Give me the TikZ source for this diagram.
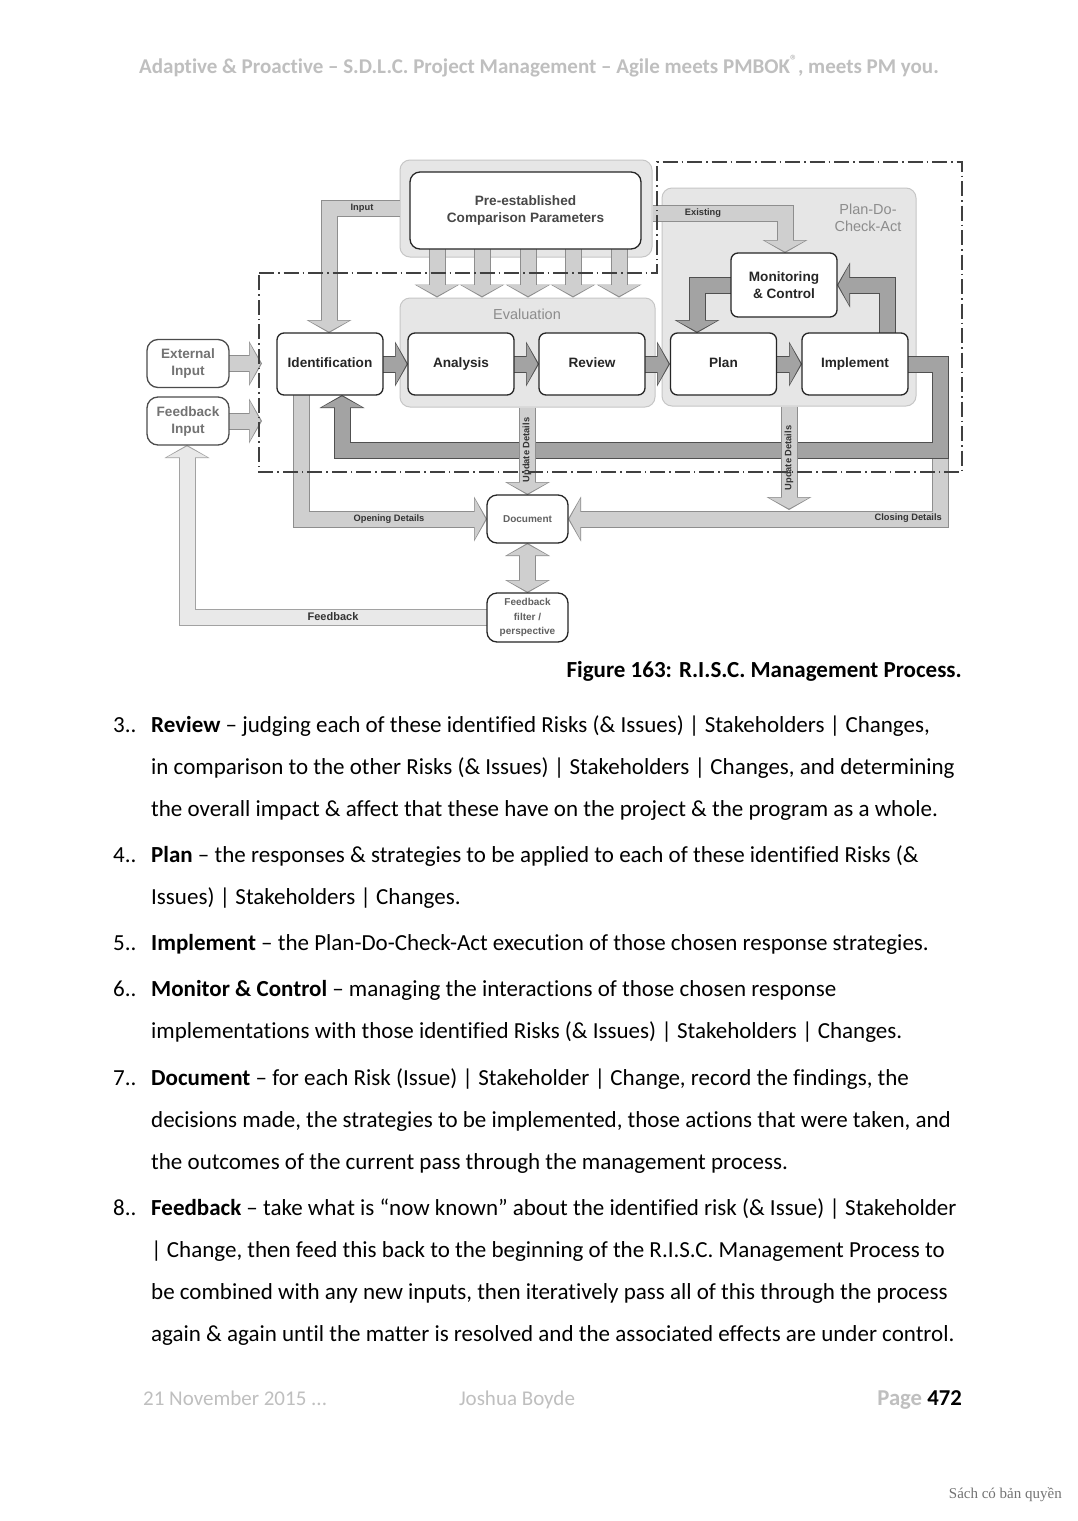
\documentclass[tikz,border=0pt]{standalone}
\usepackage{fontspec}
\setmainfont{Carlito}[Ligatures=NoCommon]
\newfontfamily\diafont{Liberation Sans}
\newfontfamily\wmfont{Liberation Serif}
\usetikzlibrary{arrows.meta,calc}

\definecolor{panelgrey}{HTML}{E6E6E6}
\definecolor{panelline}{HTML}{C6C6C6}
\definecolor{lightfill}{HTML}{CFCFCF}
\definecolor{lightedge}{HTML}{8E8E8E}
\definecolor{darkfill}{HTML}{A3A3A3}
\definecolor{darkedge}{HTML}{505050}
\definecolor{palefill}{HTML}{E9E9E9}
\definecolor{paleedge}{HTML}{A2A2A2}
\definecolor{pagegrey}{HTML}{BFBFBF}

\tikzset{
  bigtip/.tip={Triangle[width=45pt,length=13pt,line width=0pt]},
  innertip/.tip={Triangle[width=40.5pt,length=11pt,line width=0pt]},
  arrowb/.style={line width=17pt, line join=miter, -bigtip},
  arrowf/.style={line width=15pt, line join=miter, shorten >=1.4pt, -innertip},
}
% block arrow: edge colour, fill colour, path
\newcommand\fatarrow[3]{\draw[arrowb,draw=#1] #3; \draw[arrowf,draw=#2] #3;}

\begin{document}
\begin{tikzpicture}[x=1pt,y=-1pt,
  every node/.style={inner sep=0pt},
  panel/.style={draw=panelline, fill=panelgrey, rounded corners=10pt, line width=1pt},
  stepbox/.style={draw=black!85, fill=white, line width=1.3pt, rounded corners=7pt,
    minimum width=106pt, minimum height=62pt, align=center,
    font=\diafont\bfseries\fontsize{13.6}{17}\selectfont, text=black!85},
  oneline/.style={text height=10pt, text depth=3pt},
  inbox/.style={stepbox, draw=black!70, minimum width=82pt, minimum height=48pt,
    rounded corners=11pt, text=black!55},
  docbox/.style={stepbox, minimum width=81pt, minimum height=48pt, rounded corners=10pt,
    font=\diafont\bfseries\fontsize{10}{14.5}\selectfont, text=black!62},
  tag/.style={font=\diafont\bfseries\fontsize{9.3}{11}\selectfont, text=black!80},
  panellabel/.style={font=\diafont\fontsize{14.5}{17}\selectfont, text=black!45, align=center},
  bodyline/.style={anchor=base west, font=\fontsize{23}{27}\selectfont},
  boundary/.style={draw=black!75, line width=1.4pt, dash pattern=on 15pt off 4pt on 1.5pt off 4pt},
]
\fill[white] (0,0) rectangle (1077,1521);
\useasboundingbox (0,0) rectangle (1077,1521);

% running head
\node[font=\bfseries\fontsize{21}{24}\selectfont, text=pagegrey] (header) at (539,66)
  {Adaptive \& Proactive – S.D.L.C. Project Management – Agile meets PMBOK\textsuperscript{®}, meets PM you.};

% panels
\node[panel, minimum width=252pt, minimum height=97pt] (preout) at (526,208.5) {};
\node[panel, minimum width=255pt, minimum height=109pt] (eval) at (527.5,352.5) {};
\node[panel, minimum width=254pt, minimum height=218pt] (pdca) at (789,297) {};
\node[panellabel] (evallabel) at (527,314) {Evaluation};
\node[panellabel] (pdcalabel) at (868,218) {Plan-Do-\\Check-Act};

% comparison parameters into evaluation
\foreach \x in {437,482,528,573,619}
  {\fatarrow{lightedge}{lightfill}{(\x,249) -- (eval.north -| \x,0)}}

% input and existing
\fatarrow{lightedge}{lightfill}{(preout.west) -| (329,333)}
\fatarrow{lightedge}{lightfill}{(preout.east |- 0,213) -| (785,253)}

% monitoring loop
\fatarrow{darkedge}{darkfill}{(784,285) -| (697,333)}
\fatarrow{darkedge}{darkfill}{(887,333) |- (837,285)}

% main flow
\foreach \a/\b in {330/408,461/539,592/670,723.5/802}
  {\fatarrow{darkedge}{darkfill}{(\a,364) -- (\b,364)}}

% details to document
\fatarrow{lightedge}{lightfill}{(301,364) |- (487,519)}
\fatarrow{lightedge}{lightfill}{(940,450) |- (568,519)}

% back to identification
\fatarrow{darkedge}{darkfill}{(855,364) -| (940,450) -| (342,395)}

% update details
\coordinate (pdcaout) at (789,510);
\fatarrow{lightedge}{lightfill}{(eval.south) -- (527.5,495)}
\fatarrow{lightedge}{lightfill}{(pdca.south) -- (pdcaout)}

% document <-> feedback filter
\draw[arrowb, draw=lightedge, bigtip-bigtip] (527.5,543) -- (527.5,593);
\draw[arrowf, draw=lightfill, innertip-innertip, shorten <=1.4pt] (527.5,543) -- (527.5,593);

% feedback to input
\fatarrow{paleedge}{palefill}{(527.5,617) -| (187,445)}

% outside inputs
\coordinate (extend) at (262,363.5);
\coordinate (fbend) at (262,421);
\fatarrow{lightedge}{lightfill}{(188,363.5) -- (extend)}
\fatarrow{lightedge}{lightfill}{(188,421) -- (fbend)}

% steps
\node[stepbox, minimum width=231pt, minimum height=77pt, rounded corners=10pt, text=black!72]
  (params) at (525.5,210.5) {Pre-established\\Comparison Parameters};
\node[stepbox, oneline] (ident) at (330,364) {Identification};
\node[stepbox, oneline] (analysis) at (461,364) {Analysis};
\node[stepbox, oneline] (review) at (592,364) {Review};
\node[stepbox, oneline] (plan) at (723.5,364) {Plan};
\node[stepbox, oneline] (implement) at (855,364) {Implement};
\node[stepbox, minimum height=64pt] (monitor) at (784,285) {Monitoring\\\& Control};
\node[inbox] (extin) at (188,363.5) {External\\Input};
\node[inbox] (fbin) at (188,421) {Feedback\\Input};
\node[docbox, oneline] (doc) at (527.5,519) {Document};
\node[docbox, minimum height=49pt] (filter) at (527.5,617.5) {Feedback\\filter /\\perspective};

% arrow labels
\node[tag] (inputtag) at (362,208) {Input};
\node[tag] (existtag) at (703,213) {Existing};
\node[tag] (opentag) at (389,519.5) {Opening Details};
\node[tag, anchor=east] (closetag) at (942,518) {Closing Details};
\node[tag, font=\diafont\bfseries\fontsize{11}{13}\selectfont] (fbtag) at (333,617) {Feedback};
\node[tag, rotate=90] (upd1) at (527,450) {Update Details};
\node[tag, rotate=90] (upd2) at (789,458) {Update Details};

% scope boundary
\draw[boundary] (259,273) -- (657,273) -- (657,162) -- (962,162) -- (962,472) -- (259,472) -- cycle;

% caption
\node[anchor=base east, font=\bfseries\fontsize{23}{27}\selectfont] (caption) at (962,677)
  {Figure 163: R.I.S.C. Management Process.};

% list
\foreach \y/\n in {732/3,862/4,950/5,996/6,1085/7,1215/8}
  {\node[bodyline] (num\n) at (113,\y) {\n..};}
\foreach \y/\t in {
  732/{\textbf{Review} – judging each of these identified Risks (\& Issues) | Stakeholders | Changes,},
  774/{in comparison to the other Risks (\& Issues) | Stakeholders | Changes, and determining},
  816/{the overall impact \& affect that these have on the project \& the program as a whole.},
  862/{\textbf{Plan} – the responses \& strategies to be applied to each of these identified Risks (\&},
  904/{Issues) | Stakeholders | Changes.},
  950/{\textbf{Implement} – the Plan-Do-Check-Act execution of those chosen response strategies.},
  996/{\textbf{Monitor \& Control} – managing the interactions of those chosen response},
  1038/{implementations with those identified Risks (\& Issues) | Stakeholders | Changes.},
  1085/{\textbf{Document} – for each Risk (Issue) | Stakeholder | Change, record the findings, the},
  1127/{decisions made, the strategies to be implemented, those actions that were taken, and},
  1169/{the outcomes of the current pass through the management process.},
  1215/{\textbf{Feedback} – take what is “now known” about the identified risk (\& Issue) | Stakeholder},
  1257/{| Change, then feed this back to the beginning of the R.I.S.C. Management Process to},
  1299/{be combined with any new inputs, then iteratively pass all of this through the process},
  1341/{again \& again until the matter is resolved and the associated effects are under control.}}
  {\node[bodyline] at (151,\y) {\t};}

% footer
\node[anchor=base west, font=\fontsize{21}{24}\selectfont, text=pagegrey] (date) at (143,1405) {21 November 2015 ...};
\node[anchor=base, font=\fontsize{21}{24}\selectfont, text=pagegrey] (author) at (517,1405) {Joshua Boyde};
\node[anchor=base east, font=\bfseries\fontsize{22.7}{26}\selectfont] (pagenum) at (962,1405)
  {\textcolor{pagegrey}{Page} 472};
\node[anchor=base east, font=\wmfont\fontsize{15}{17}\selectfont, text=black!55] (mark) at (1062,1498)
  {Sách có bản quyền};
\end{tikzpicture}
\end{document}
